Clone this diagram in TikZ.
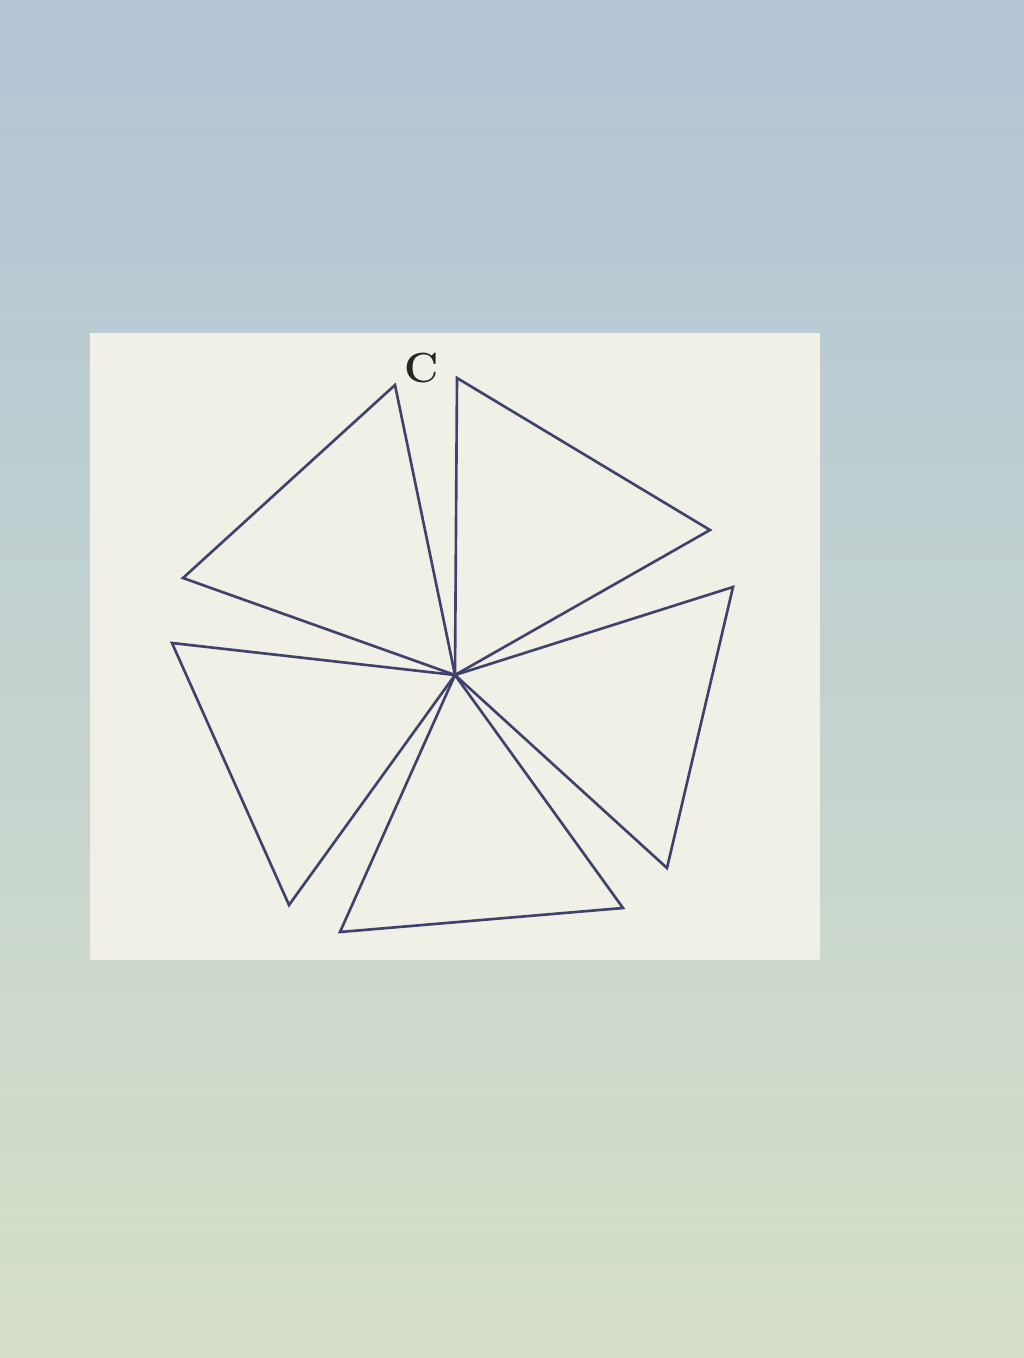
\documentclass[tikz,border=0pt]{standalone}
\usepackage{xcolor}
\definecolor{wallblue}{RGB}{178,196,214}
\definecolor{wallgreen}{RGB}{214,224,200}
\definecolor{screen}{RGB}{240,240,230}
\definecolor{ink}{RGB}{62,66,108}
\tikzstyle{edge}=[draw=ink, line width=0.75pt, line join=miter]
\tikzstyle{label}=[font=\large\bfseries, text=black!85]

\begin{document}
\begin{tikzpicture}[x=0.1mm,y=-0.1mm]
  %% Photo background and screen
  \shade[top color=wallblue, bottom color=wallgreen] (0,0) rectangle (1024,1358);
  \useasboundingbox (0,0) rectangle (1024,1358);
  \fill[screen] (90,333) rectangle (820,960);

  %% Centre and outer corners
  \coordinate (O) at (455,675);
  \coordinate (A1) at (395,385);
  \coordinate (A2) at (183,578);
  \coordinate (B1) at (457,378);
  \coordinate (B2) at (710,530);
  \coordinate (C1) at (733,587);
  \coordinate (C2) at (667,868);
  \coordinate (D1) at (623,908);
  \coordinate (D2) at (340,932);
  \coordinate (E1) at (289,905);
  \coordinate (E2) at (172,643);

  \draw (422,368) node[label] (lblC) {C};

  %% Triangles
  \draw[edge] (O) -- (A1) -- (A2) -- cycle;
  \draw[edge] (O) -- (B1) -- (B2) -- cycle;
  \draw[edge] (O) -- (C1) -- (C2) -- cycle;
  \draw[edge] (O) -- (D1) -- (D2) -- cycle;
  \draw[edge] (O) -- (E1) -- (E2) -- cycle;
\end{tikzpicture}
\end{document}
